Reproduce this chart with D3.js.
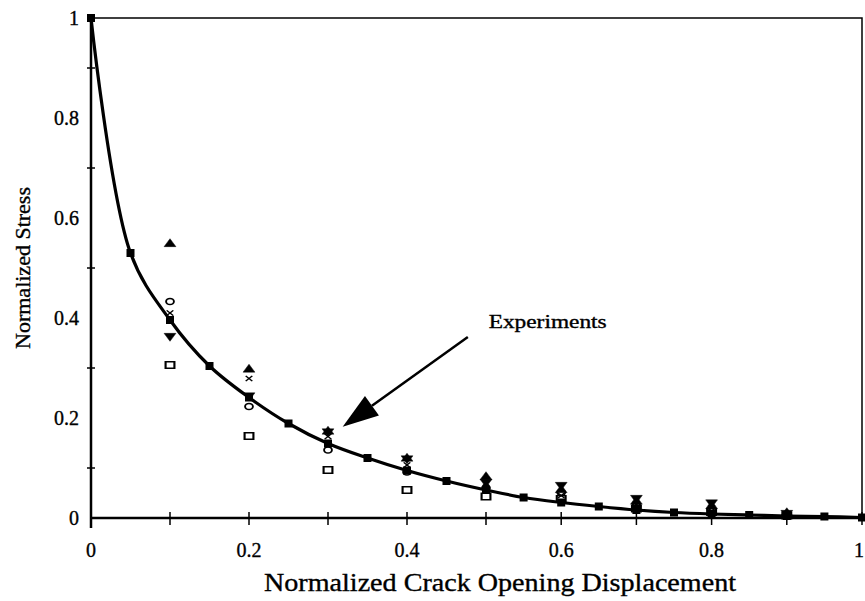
<!DOCTYPE html>
<html>
<head>
<meta charset="utf-8">
<script src="https://cdn.jsdelivr.net/npm/d3@7"></script>
<style>
  body { margin: 0; background: #fff; }
  text { font-family: 'Liberation Serif', 'Times New Roman', serif; fill: #000; stroke: #000; stroke-width: 0.35px; }
</style>
</head>
<body>
<div id="viz"></div>
<script>
const width = 865;
const height = 601;

// model curve (solid line with filled squares)
const modelX = [0, 0.05, 0.1, 0.15, 0.2, 0.25, 0.3, 0.35, 0.4, 0.45, 0.5, 0.55, 0.6, 0.65, 0.7, 0.75, 0.8, 0.85, 0.9, 0.95, 1];
const modelY = [1, 0.53, 0.396, 0.304, 0.241, 0.189, 0.149, 0.12, 0.095, 0.074, 0.056, 0.041, 0.031, 0.023, 0.016, 0.011, 0.008, 0.006, 0.004, 0.003, 0.001];

// experiments, read at each 0.1 step
const expX = [0.1, 0.2, 0.3, 0.4, 0.5, 0.6, 0.7, 0.8, 0.9];
const triUpY = [0.548, 0.297, 0.173, 0.119, 0.082, 0.056, 0.033, 0.024, 0.01];
const triDownY = [0.364, 0.245, 0.173, 0.119, 0.072, 0.066, 0.04, 0.031, 0.01];
const circleY = [0.433, 0.223, 0.136, 0.092, 0.06, 0.051, 0.024, 0.016, 0.006];
const crossY = [0.41, 0.279, 0.163, 0.106, 0.07, 0.045, 0.028, 0.02, 0.007];
const squareY = [0.306, 0.164, 0.096, 0.056, 0.043, 0.038, 0.019, 0.012, 0.005];

const xTickLabels = ['0', '0.2', '0.4', '0.6', '0.8', '1'];
const yTickLabels = ['0', '0.2', '0.4', '0.6', '0.8', '1'];

const svg = d3.select('#viz')
  .append('svg')
    .attr('width', width)
    .attr('height', height);

// the scanned x axis is slightly stretched in the middle
const xScale = d3.scaleLinear()
  .domain([0, 0.5, 1])
  .range([91, 486, 862]);
const yScale = d3.scaleLinear()
  .domain([0, 1])
  .range([518, 18]);

// frame: top and right
svg.append('path')
  .attr('d', `M${xScale(0)},${yScale(1)}H${xScale(1)}V${yScale(0)}`)
  .attr('fill', 'none')
  .attr('stroke', '#000')
  .attr('stroke-width', 1.5);

// x axis with crossing ticks every 0.1
const xAxis = svg.append('g').attr('class', 'x-axis');
xAxis.append('line')
  .attr('x1', xScale(0)).attr('x2', xScale(1))
  .attr('y1', yScale(0)).attr('y2', yScale(0))
  .attr('stroke', '#000').attr('stroke-width', 2.5);
xAxis.selectAll('line.tick')
  .data(d3.range(1, 11).map(i => i / 10))
  .join('line')
    .attr('class', 'tick')
    .attr('x1', d => xScale(d)).attr('x2', d => xScale(d))
    .attr('y1', yScale(0) - 6).attr('y2', yScale(0) + 7)
    .attr('stroke', '#000').attr('stroke-width', 1.5);
xAxis.selectAll('text')
  .data(xTickLabels)
  .join('text')
    .attr('x', d => Math.min(xScale(+d), 859))
    .attr('y', 557)
    .attr('text-anchor', 'middle')
    .style('font-size', '20px')
    .text(d => d);

// y axis with crossing ticks at odd tenths
const yAxis = svg.append('g').attr('class', 'y-axis');
yAxis.append('line')
  .attr('x1', xScale(0)).attr('x2', xScale(0))
  .attr('y1', yScale(0) + 10).attr('y2', yScale(1))
  .attr('stroke', '#000').attr('stroke-width', 2.5);
yAxis.selectAll('line.tick')
  .data([0.1, 0.3, 0.5, 0.7, 0.9])
  .join('line')
    .attr('class', 'tick')
    .attr('x1', xScale(0) - 4).attr('x2', xScale(0) + 4)
    .attr('y1', d => yScale(d)).attr('y2', d => yScale(d))
    .attr('stroke', '#000').attr('stroke-width', 1.5);
yAxis.selectAll('text')
  .data(yTickLabels)
  .join('text')
    .attr('x', 79)
    .attr('y', d => yScale(+d) + 7)
    .attr('text-anchor', 'end')
    .style('font-size', '20px')
    .text(d => d);

// axis titles
svg.append('text')
  .attr('x', 500)
  .attr('y', 591)
  .attr('text-anchor', 'middle')
  .attr('textLength', 472)
  .attr('lengthAdjust', 'spacingAndGlyphs')
  .style('font-size', '25px')
  .text('Normalized Crack Opening Displacement');
svg.append('text')
  .attr('transform', 'translate(30,268) rotate(-90)')
  .attr('text-anchor', 'middle')
  .style('font-size', '22px')
  .text('Normalized Stress');

// experiment markers
const series = [
  { values: squareY, type: d3.symbolSquare, size: 50, fill: 'none', rotate: 0, sx: 1.25, sy: 0.9 },
  { values: circleY, type: d3.symbolCircle, size: 40, fill: 'none', rotate: 0, sx: 1.1, sy: 0.85 },
  { values: crossY, type: d3.symbolX, size: 30, fill: 'none', rotate: 0, sx: 1, sy: 0.8 },
  { values: triDownY, type: d3.symbolTriangle, size: 50, fill: '#000', rotate: 180, sx: 1.1, sy: 0.85 },
  { values: triUpY, type: d3.symbolTriangle, size: 50, fill: '#000', rotate: 0, sx: 1.1, sy: 0.85 },
];
series.forEach(s => {
  svg.append('g')
    .selectAll('path')
    .data(expX.map((x, i) => ({x: x, y: s.values[i]})))
    .join('path')
      .attr('d', d3.symbol().type(s.type).size(s.size))
      .attr('transform', d => `translate(${xScale(d.x)},${yScale(d.y)}) scale(${s.sx},${s.sy}) rotate(${s.rotate})`)
      .attr('fill', s.fill)
      .attr('stroke', '#000')
      .attr('stroke-width', s.fill === 'none' ? 1.7 : 0.5);
});

// model line
const modelData = modelX.map((x, i) => ({x: x, y: modelY[i]}));
const line = d3.line()
  .x(d => xScale(d.x))
  .y(d => yScale(d.y))
  .curve(d3.curveCatmullRom.alpha(0.5));
svg.append('path')
  .datum(modelData)
  .attr('d', line)
  .attr('fill', 'none')
  .attr('stroke', '#000')
  .attr('stroke-width', 3.2);
svg.append('g')
  .selectAll('rect')
  .data(modelData)
  .join('rect')
    .attr('x', d => xScale(d.x) - 4)
    .attr('y', d => yScale(d.y) - 4)
    .attr('width', 8)
    .attr('height', 8)
    .attr('fill', '#000');

// annotation
const arrowFrom = {x: 0.477, y: 0.362};
const arrowTip = {x: 0.3186, y: 0.1826};
const x0 = xScale(arrowFrom.x), y0 = yScale(arrowFrom.y);
const x1 = xScale(arrowTip.x), y1 = yScale(arrowTip.y);
const ang = Math.atan2(y1 - y0, x1 - x0);
const headLen = 36, headHalf = 12;
const bx = x1 - headLen * Math.cos(ang), by = y1 - headLen * Math.sin(ang);
svg.append('line')
  .attr('x1', x0).attr('y1', y0)
  .attr('x2', bx).attr('y2', by)
  .attr('stroke', '#000')
  .attr('stroke-width', 2.5);
svg.append('path')
  .attr('d', `M${x1},${y1}L${bx + headHalf * Math.sin(ang)},${by - headHalf * Math.cos(ang)}L${bx - headHalf * Math.sin(ang)},${by + headHalf * Math.cos(ang)}Z`)
  .attr('fill', '#000');
svg.append('text')
  .attr('x', xScale(0.582))
  .attr('y', yScale(0.39) + 5)
  .attr('text-anchor', 'middle')
  .attr('textLength', 118)
  .attr('lengthAdjust', 'spacingAndGlyphs')
  .style('font-size', '18px')
  .text('Experiments');
</script>
</body>
</html>
